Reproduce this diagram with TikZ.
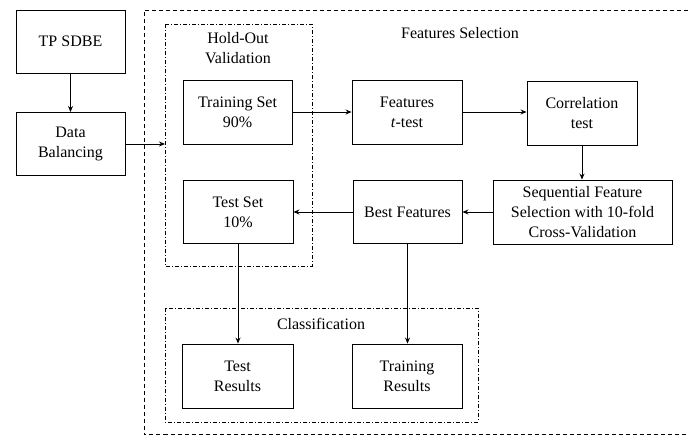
\documentclass[tikz,border=0pt]{standalone}
\usepackage{fontspec}
\setmainfont{Liberation Serif}
\usetikzlibrary{arrows.meta}
\begin{document}
\begin{tikzpicture}[x=1pt,y=-1pt,
  box/.style={draw,line width=0.9pt,align=center,inner sep=0pt,font=\fontsize{16}{20}\selectfont},
  lbl/.style={align=center,font=\fontsize{16}{20}\selectfont},
  arr/.style={line width=0.9pt,-{Stealth[length=6pt,width=5pt]}},
  grp/.style={line width=0.8pt,dash pattern=on 4pt off 2pt on 1pt off 2pt},
  outer/.style={line width=0.8pt,dash pattern=on 4pt off 3pt}]
\useasboundingbox (0,0) rectangle (689,436);
% outer dashed region (open on the right)
\draw[outer] (688,10.5) -- (144,10.5) -- (144,434) -- (688,434);
% groups
\draw[grp] (165,24) rectangle (312,266);
\draw[grp] (165,308) rectangle (478,422);
\node[lbl] (hov) at (238,48) {Hold-Out\\Validation};
\node[lbl] (fsl) at (460,33) {Features Selection};
\node[lbl] (cls) at (321,324) {Classification};
% boxes
\node[box,minimum width=109pt,minimum height=63pt] (tp) at (70.5,41.5) {TP SDBE};
\node[box,minimum width=109pt,minimum height=63pt] (db) at (70.5,144) {Data\\Balancing};
\node[box,minimum width=109pt,minimum height=64pt] (train) at (237.5,112) {Training Set\\90\%};
\node[box,minimum width=110pt,minimum height=63pt] (test) at (238,212) {Test Set\\10\%};
\node[box,minimum width=110pt,minimum height=64pt] (feat) at (407,112) {Features\\\textit{t}-test};
\node[box,minimum width=110pt,minimum height=64pt] (corr) at (582,113) {Correlation\\test};
\node[box,minimum width=179pt,minimum height=64pt] (sfs) at (582.5,212) {Sequential Feature\\Selection with 10-fold\\Cross-Validation};
\node[box,minimum width=109pt,minimum height=63pt] (best) at (407.5,212) {Best Features};
\node[box,minimum width=111pt,minimum height=64pt] (testres) at (237.5,376) {Test\\Results};
\node[box,minimum width=110pt,minimum height=64pt] (trainres) at (407,376) {Training\\Results};
\coordinate (hoin) at (165,144);
% connectors
\draw[arr] (tp) -- (db);
\draw[arr] (db.east) -- (hoin);
\draw[arr] (train.east) -- (feat.west |- train.east);
\draw[arr] (feat.east) -- (corr.west |- feat.east);
\draw[arr] (corr) -- (corr |- sfs.north);
\draw[arr] (sfs.west) -- (best.east);
\draw[arr] (best.west) -- (test.east);
\draw[arr] (test) -- (test |- testres.north);
\draw[arr] (best) -- (best |- trainres.north);
\end{tikzpicture}
\end{document}
